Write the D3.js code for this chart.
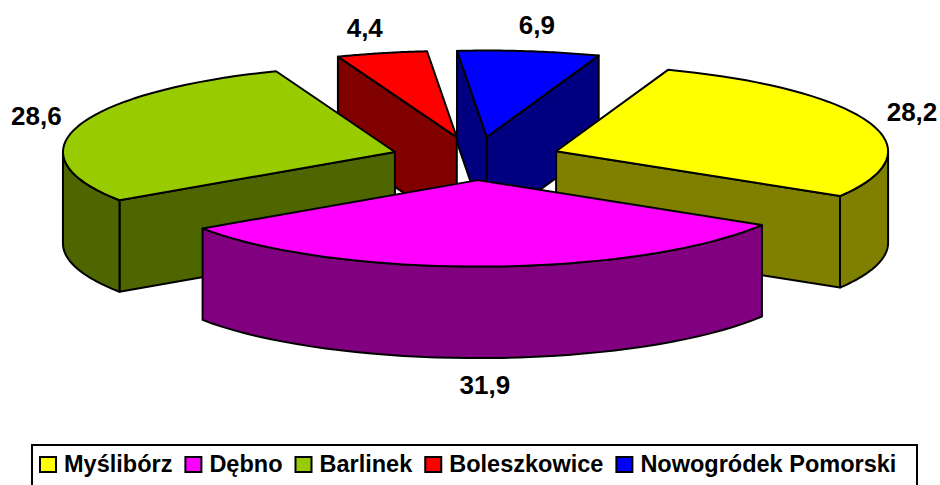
<!DOCTYPE html>
<html><head><meta charset="utf-8">
<style>html,body{margin:0;padding:0;background:#fff;overflow:hidden}svg{display:block}</style>
<script src="https://cdn.jsdelivr.net/npm/d3@7/dist/d3.min.js"></script>
</head><body><svg id="c" width="940" height="485"></svg>
<script>
const categories = ["Myślibórz","Dębno","Barlinek","Boleszkowice","Nowogródek Pomorski"];
const values = [28.2,31.9,28.6,4.4,6.9];
const valueLabels = ["28,2","31,9","28,6","4,4","6,9"];
const topColors = ["#FFFF00","#FF00FF","#99CC00","#FF0000","#0000FF"];
const wallColors = ["#808000","#800080","#4D6600","#800000","#000080"];

const rad = d => d*Math.PI/180;
const cx=476, cy=158.5, rx=332, ry=86.5, depth=91.5, explodeX=0.256, explodeY=0.25;
const X = d3.scaleLinear().domain([-1,1]).range([cx-rx,cx+rx]);
const Y = d3.scaleLinear().domain([-1,1]).range([cy-ry,cy+ry]);
const svg = d3.select("#c");

const pie = d3.pie().sort(null).value(d=>d).startAngle(rad(19.7)).endAngle(rad(379.7));
const arcs = pie(values).map((a,i)=>{
  const t0=a.startAngle-Math.PI/2, t1=a.endAngle-Math.PI/2, mid=(t0+t1)/2;
  const ox=explodeX*Math.cos(mid), oy=explodeY*Math.sin(mid);
  return {i,t0,t1,mid,apex:[X(ox),Y(oy)],
    at:t=>[X(Math.cos(t)+ox),Y(Math.sin(t)+oy)]};
});
const samples=(a,b)=>d3.range(0,41).map(k=>a+(b-a)*k/40);
const line=d3.line();
function poly(pts,fill){
  svg.append("path").attr("d",line(pts)+"Z").attr("fill",fill)
    .attr("stroke","#000").attr("stroke-width",2).attr("stroke-linejoin","round");
}
const down=p=>[p[0],p[1]+depth];

function drawSlice(s){
  const wall=wallColors[s.i], top=topColors[s.i];
  // radial walls whose outward normal points at the viewer
  if(Math.cos(s.t0)<0){ const p=s.at(s.t0); poly([s.apex,p,down(p),down(s.apex)],wall); }
  if(Math.cos(s.t1)>0){ const p=s.at(s.t1); poly([s.apex,p,down(p),down(s.apex)],wall); }
  // rim wall: the part of the arc on the near half of the ellipse
  [[0,Math.PI],[2*Math.PI,3*Math.PI]].forEach(([lo,hi])=>{
    const u=Math.max(s.t0,lo), v=Math.min(s.t1,hi);
    if(v>u){
      const front=samples(u,v).map(s.at);
      poly(front.concat(front.slice().reverse().map(down)),wall);
    }
  });
  poly([s.apex].concat(samples(s.t0,s.t1).map(s.at)),top);
}
[3,4,2,0,1].forEach(i=>drawSlice(arcs[i]));

// value labels, placed off the rim at each slice's middle
const labelShift=[[43,-10],[-1,27+depth],[-42,-10],[-17,-25],[8,-26]];
arcs.forEach(s=>{
  const p=s.at(s.mid);
  svg.append("text").attr("x",p[0]+labelShift[s.i][0]).attr("y",p[1]+labelShift[s.i][1])
    .attr("text-anchor","middle").attr("dominant-baseline","central")
    .attr("font-family","Liberation Sans, Arial, sans-serif").attr("font-weight","bold").attr("font-size",26)
    .attr("fill","#000").text(valueLabels[s.i]);
});

// legend
svg.append("rect").attr("x",32).attr("y",445).attr("width",885).attr("height",50)
  .attr("fill","#fff").attr("stroke","#000").attr("stroke-width",2);
let lx=40;
categories.forEach((c,i)=>{
  svg.append("rect").attr("x",lx).attr("y",457).attr("width",16).attr("height",15)
    .attr("fill",topColors[i]).attr("stroke","#000").attr("stroke-width",2);
  const t=svg.append("text").attr("x",lx+24).attr("y",472)
    .attr("font-family","Liberation Sans, Arial, sans-serif").attr("font-weight","bold").attr("font-size",23.5)
    .attr("fill","#000").text(c);
  lx+=24+t.node().getComputedTextLength()+13;
});
</script></body></html>
